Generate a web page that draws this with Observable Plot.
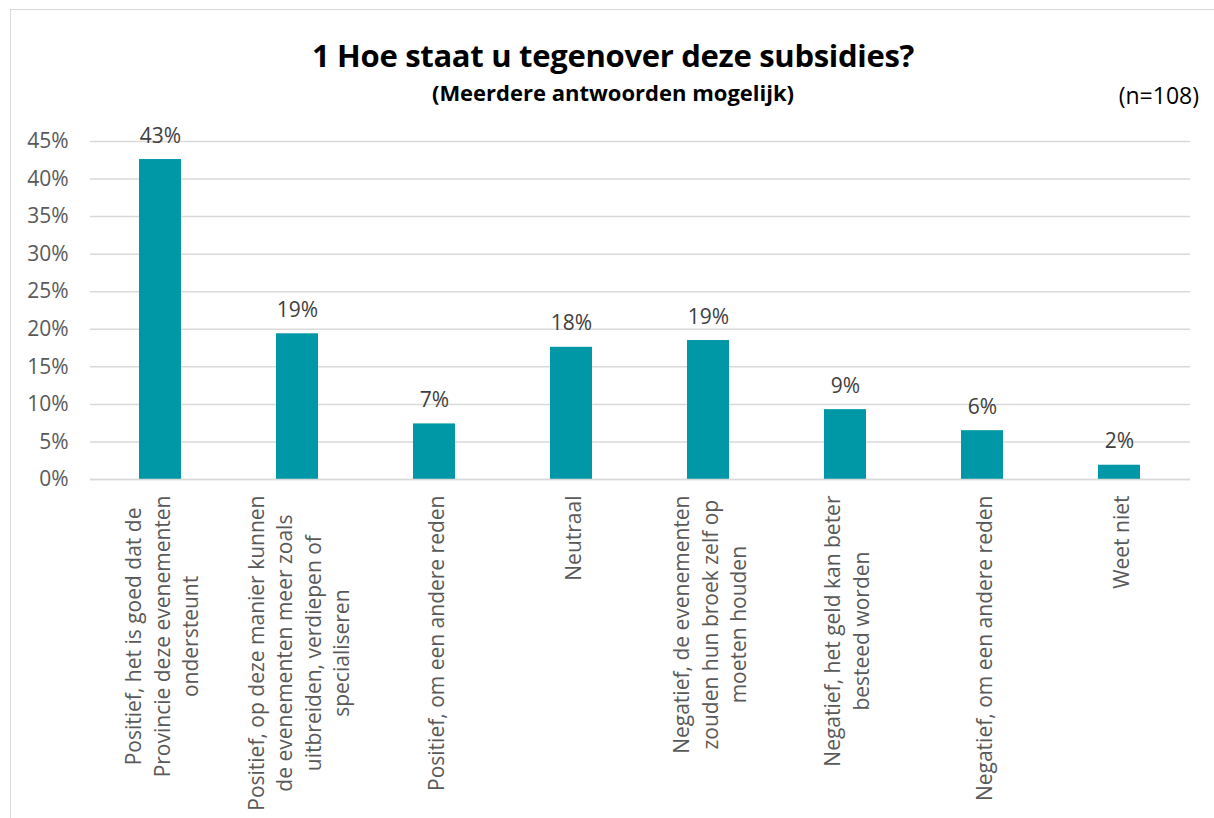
<!DOCTYPE html>
<html>
<head>
<meta charset="utf-8">
<script src="https://cdn.jsdelivr.net/npm/d3@7"></script>
<script src="https://cdn.jsdelivr.net/npm/@observablehq/plot@0.6"></script>
<style>
  html, body { margin: 0; padding: 0; background: #fff; }
  body { width: 1214px; height: 818px; position: relative; overflow: hidden; font-family: "Open Sans", sans-serif; }
  #frame { position: absolute; left: 10px; top: 9px; width: 1220px; height: 830px; border: 1px solid #d9d9d9; box-sizing: border-box; }
  #title { position: absolute; left: 0; width: 1226px; top: 40px; text-align: center; font-weight: bold; font-size: 31px; color: #000; line-height: 1; letter-spacing: -0.3px; }
  #subtitle { position: absolute; left: 0; width: 1226px; top: 81px; text-align: center; font-weight: bold; font-size: 22px; color: #000; line-height: 1; }
  #n { position: absolute; right: 15px; top: 84px; font-size: 23px; color: #000; line-height: 1; }
  #chart { position: absolute; left: 0; top: 110px; }
</style>
</head>
<body>
<div id="frame"></div>
<div id="title">1 Hoe staat u tegenover deze subsidies?</div>
<div id="subtitle">(Meerdere antwoorden mogelijk)</div>
<div id="n">(n=108)</div>
<div id="chart"></div>
<script>
const categories = [
  "Positief, het is goed dat de\nProvincie deze evenementen\nondersteunt",
  "Positief, op deze manier kunnen\nde evenementen meer zoals\nuitbreiden, verdiepen of\nspecialiseren",
  "Positief, om een andere reden",
  "Neutraal",
  "Negatief, de evenementen\nzouden hun broek zelf op\nmoeten houden",
  "Negatief, het geld kan beter\nbesteed worden",
  "Negatief, om een andere reden",
  "Weet niet"
];
const values = [42.6, 19.4, 7.4, 17.6, 18.5, 9.3, 6.5, 1.9];
const valueLabels = ["43%", "19%", "7%", "18%", "19%", "9%", "6%", "2%"];
const yTicks = [0, 5, 10, 15, 20, 25, 30, 35, 40, 45];

const data = categories.map((c, i) => ({category: c, value: values[i], label: valueLabels[i]}));

const labelFont = 21;
const ctx = document.createElement("canvas").getContext("2d");
ctx.font = `${labelFont}px "Open Sans"`;
const maxLineWidth = c => d3.max(c.split("\n"), l => ctx.measureText(l).width);

const labelMarks = categories.map(c =>
  Plot.text([c], {
    x: d => d,
    text: d => d,
    frameAnchor: "bottom",
    rotate: -90,
    textAnchor: "middle",
    lineAnchor: "middle",
    lineHeight: 1.36,
    fontSize: labelFont,
    fill: "#595959",
    dy: 16 + maxLineWidth(c) / 2
  })
);

const plot = Plot.plot({
  width: 1214,
  height: 708,
  marginTop: 31,
  marginBottom: 339,
  marginLeft: 90,
  marginRight: 24,
  style: {fontFamily: "'Open Sans', sans-serif", background: "transparent", overflow: "visible"},
  x: {domain: categories, paddingInner: 0.69, paddingOuter: 0.345, axis: null},
  y: {domain: [0, 45], ticks: yTicks, axis: null},
  marks: [
    Plot.gridY(yTicks, {stroke: "#d9d9d9", strokeOpacity: 1, strokeWidth: 1.5}),
    Plot.axisY(yTicks, {tickSize: 0, tickPadding: 22, tickFormat: d => d + "%", fontSize: 21, fill: "#595959", label: null}),
    Plot.barY(data, {x: "category", y: "value", fill: "#0097a7"}),
    Plot.ruleY([0], {stroke: "#d9d9d9", strokeWidth: 1.5}),
    Plot.text(data, {x: "category", y: "value", text: "label", lineAnchor: "bottom", dy: -17, fontSize: 21, fill: "#404040"}),
    ...labelMarks
  ]
});
document.getElementById("chart").appendChild(plot);
</script>
</body>
</html>
